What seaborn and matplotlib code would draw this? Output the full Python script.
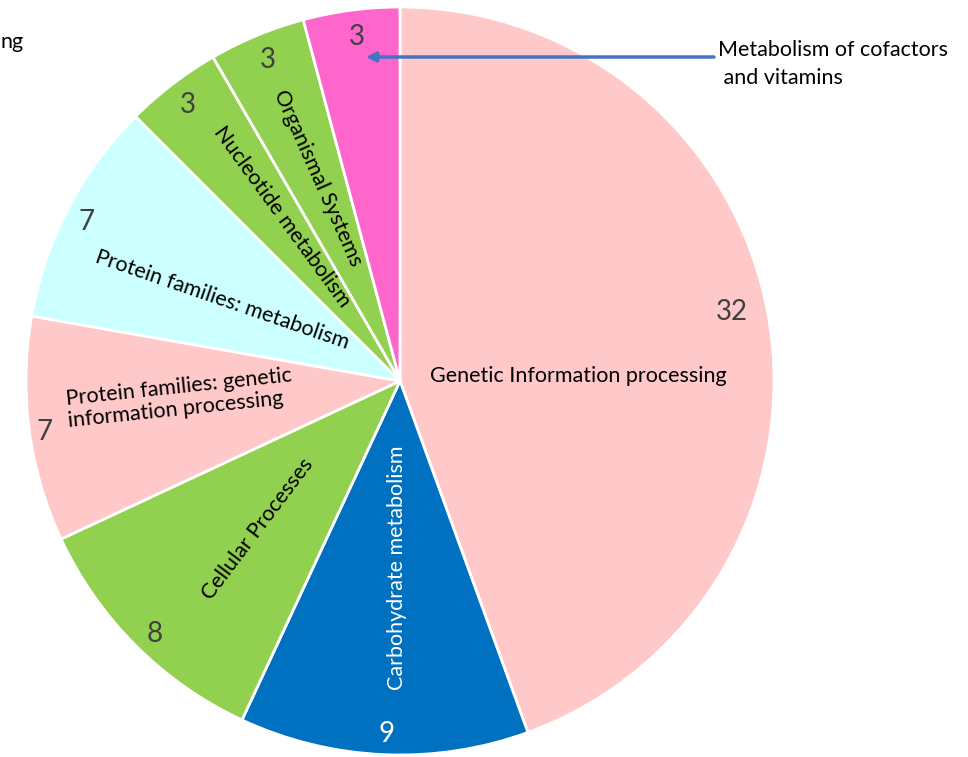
import matplotlib
matplotlib.use("Agg")
import matplotlib.pyplot as plt
import seaborn as sns

# ---- data ----
categories = [
    "Genetic Information processing",
    "Carbohydrate metabolism",
    "Cellular Processes",
    "Protein families: genetic\ninformation processing",
    "Protein families: metabolism",
    "Nucleotide metabolism",
    "Organismal Systems",
    "Metabolism of cofactors\n and vitamins",
]
counts = [32, 9, 8, 7, 7, 3, 3, 3]
colors = ["#FFC9C9", "#0070C0", "#92D050", "#FFC9C9", "#CCFFFF", "#92D050", "#92D050", "#FF66CC"]

sns.set_theme(style="white")
plt.rcParams["font.family"] = ["Lato", "DejaVu Sans"]

W, H = 968, 757
fig = plt.figure(figsize=(W / 100, H / 100), dpi=100)
ax = fig.add_axes([0, 0, 1, 1])

cx, cy, R = 400, 381, 374
ax.pie(counts, colors=colors, startangle=90, counterclock=False,
       center=(cx, H - cy), radius=R,
       wedgeprops=dict(edgecolor="white", linewidth=2))
ax.set_xlim(0, W)
ax.set_ylim(0, H)
ax.set_aspect("equal")
ax.axis("off")

NUM = "#404040"
FS = 15.5
def t(x, y, s, **kw):
    ax.text(x, H - y, s, ha=kw.pop("ha", "center"), va=kw.pop("va", "center"), **kw)

# category labels: (x, y, rotation, colour)
label_layout = [
    (578, 376, 0, "black"),
    (397, 568, 90, "white"),
    (258, 529, 53, "black"),
    (180, 398, 6, "black"),
    (222, 300, -19, "black"),
    (282, 217, -54, "black"),
    (318, 178, -66, "black"),
]
for (x, y, rot, col), name in zip(label_layout, categories[:7]):
    t(x, y, name, rotation=rot, color=col, fontsize=FS, rotation_mode="anchor",
      multialignment="left", linespacing=1.15)

# value labels
value_layout = [(732, 312, NUM), (387, 734, "white"), (155, 634, NUM), (45, 432, NUM),
                (87, 222, NUM), (188, 105, NUM), (268, 60, NUM), (357, 37, NUM)]
for (x, y, col), v in zip(value_layout, counts):
    t(x, y, str(v), color=col, fontsize=20)

# callout for the small magenta slice
ax.annotate("", xy=(366, H - 57), xytext=(714, H - 57),
            arrowprops=dict(arrowstyle="-|>", color="#4472C4", lw=2.5,
                            mutation_scale=14, shrinkA=0, shrinkB=0))
t(718, 64, categories[7], ha="left", fontsize=FS, linespacing=1.5, color="black")

# fragment of a label at the far left edge (only its end is visible in the source)
t(1, 42, "ng", ha="left", fontsize=FS, color="black")

fig.savefig("out.png", dpi=100)
